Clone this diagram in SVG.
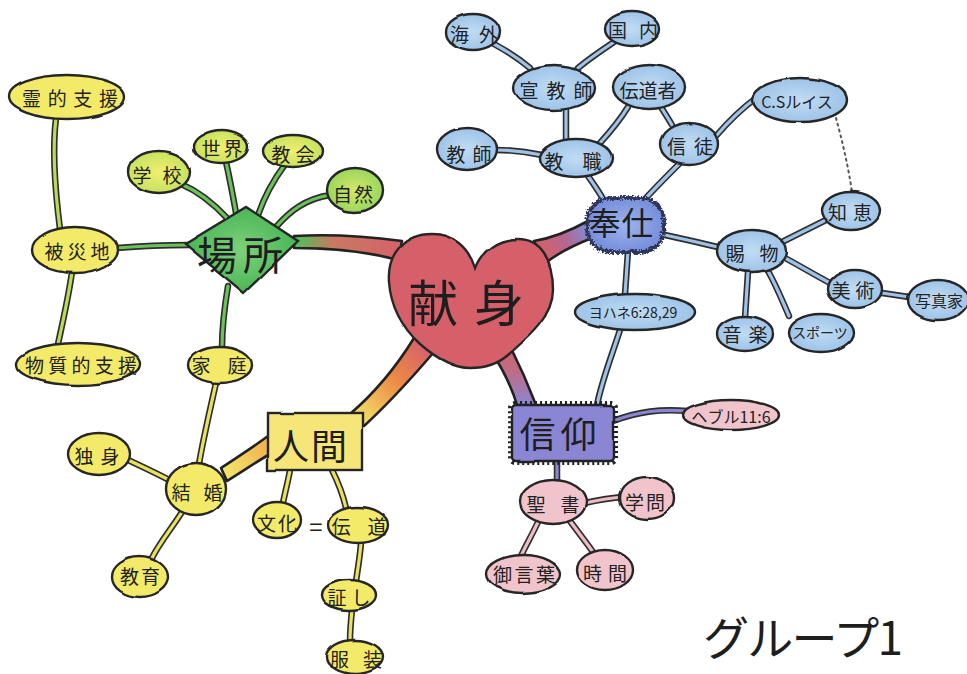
<svg xmlns="http://www.w3.org/2000/svg" xmlns:xlink="http://www.w3.org/1999/xlink" width="967" height="674" viewBox="0 0 967 674">
  <defs>
    <style>
      .lbl { font-family: "Noto Sans CJK JP", "Noto Sans", sans-serif; font-size: 19px; fill: #222; text-anchor: middle; dominant-baseline: central; }
      .sm { font-size: 14px; }
      .md { font-size: 16px; }
      .big { font-family: "Noto Sans CJK JP", "Noto Sans", sans-serif; fill: #1e1e1e; text-anchor: middle; dominant-baseline: central; }
      .nd { stroke: #262626; stroke-width: 2.4; filter: url(#rough); }
      .yel { fill: #f3ea6a; }
      .yg { fill: url(#gYG); }
      .grn { fill: url(#gGR); }
      .blu { fill: url(#gBL); }
      .pnk { fill: #f1c4cc; }
      .eo { fill: none; stroke: #2e2e2e; stroke-width: 6.5; stroke-linecap: round; stroke-linejoin: round; }
      .ef { fill: none; stroke-width: 3.2; stroke-linecap: round; stroke-linejoin: round; }
      .cy { stroke: #e9e25c; }
      .cg { stroke: #b9dc58; }
      .cgg { stroke: #6cc25a; }
      .cb { stroke: #9fc2e6; }
      .cp { stroke: #8a86d2; }
      .cpk { stroke: #ebbcc4; }
      .br { stroke: #222; stroke-width: 2.6; stroke-linejoin: round; }
    </style>
    <!-- slight wobble for hand-drawn outlines -->
    <filter id="rough" x="-10%" y="-10%" width="120%" height="120%">
      <feTurbulence type="fractalNoise" baseFrequency="0.035" numOctaves="1" seed="3" result="n"/>
      <feDisplacementMap in="SourceGraphic" in2="n" scale="3" xChannelSelector="R" yChannelSelector="G"/>
    </filter>
    <!-- bumpy cloud edge for 奉仕 -->
    <filter id="fuzz" x="-15%" y="-15%" width="130%" height="130%">
      <feTurbulence type="turbulence" baseFrequency="0.35" numOctaves="1" seed="7" result="n"/>
      <feDisplacementMap in="SourceGraphic" in2="n" scale="6" xChannelSelector="R" yChannelSelector="G"/>
    </filter>
    <radialGradient id="gYG" cx="50%" cy="50%" r="60%">
      <stop offset="0" stop-color="#f2ee70"/>
      <stop offset="1" stop-color="#bfe05c"/>
    </radialGradient>
    <radialGradient id="gGR" cx="50%" cy="50%" r="60%">
      <stop offset="0" stop-color="#d2e86a"/>
      <stop offset="1" stop-color="#8fd35a"/>
    </radialGradient>
    <radialGradient id="gBL" cx="50%" cy="50%" r="60%">
      <stop offset="0" stop-color="#c0dcf3"/>
      <stop offset="1" stop-color="#98bfe6"/>
    </radialGradient>
    <radialGradient id="gPlace" cx="50%" cy="50%" r="55%">
      <stop offset="0" stop-color="#7fd07a"/>
      <stop offset="1" stop-color="#43b452"/>
    </radialGradient>
    <radialGradient id="gServe" cx="50%" cy="50%" r="60%">
      <stop offset="0" stop-color="#9fb4ec"/>
      <stop offset="1" stop-color="#6f88d8"/>
    </radialGradient>
    <linearGradient id="brPlace" gradientUnits="userSpaceOnUse" x1="296" y1="0" x2="400" y2="0">
      <stop offset="0" stop-color="#4fbf5a"/>
      <stop offset="0.35" stop-color="#c77a62"/>
      <stop offset="1" stop-color="#d6616a"/>
    </linearGradient>
    <linearGradient id="brServe" gradientUnits="userSpaceOnUse" x1="540" y1="250" x2="590" y2="228">
      <stop offset="0" stop-color="#d6616a"/>
      <stop offset="0.5" stop-color="#b46690"/>
      <stop offset="1" stop-color="#7d8fdc"/>
    </linearGradient>
    <linearGradient id="brFaith" gradientUnits="userSpaceOnUse" x1="0" y1="350" x2="0" y2="406">
      <stop offset="0" stop-color="#d6616a"/>
      <stop offset="0.45" stop-color="#b7708f"/>
      <stop offset="1" stop-color="#8a86d4"/>
    </linearGradient>
    <linearGradient id="brHuman" gradientUnits="userSpaceOnUse" x1="425" y1="345" x2="355" y2="418">
      <stop offset="0" stop-color="#d6616a"/>
      <stop offset="0.45" stop-color="#ec8a45"/>
      <stop offset="1" stop-color="#f3e26a"/>
    </linearGradient>
    <linearGradient id="brMarriage" gradientUnits="userSpaceOnUse" x1="270" y1="445" x2="222" y2="475">
      <stop offset="0" stop-color="#f2b04e"/>
      <stop offset="1" stop-color="#f3e86a"/>
    </linearGradient>

    <!-- connector geometry, drawn twice: dark casing then coloured core -->
    <path id="c1" d="M60,229 C55,190 52,150 56,118"/>
    <path id="c2" d="M72,272 C68,300 62,325 58,344"/>
    <path id="c3" d="M117,248 C140,246 165,245 190,245"/>
    <path id="c4" d="M181,184 C200,192 215,205 228,219"/>
    <path id="c5" d="M226,162 C230,180 233,196 236,213"/>
    <path id="c6" d="M284,166 C272,182 264,198 258,215"/>
    <path id="c7" d="M330,195 C305,199 290,211 276,227"/>
    <path id="c8" d="M228,286 C224,310 222,330 222,348"/>
    <path id="c9" d="M216,383 C210,410 203,440 199,464"/>
    <path id="c10" d="M128,460 C145,468 158,474 171,481"/>
    <path id="c11" d="M182,512 C172,528 160,542 152,558"/>
    <path id="c12" d="M290,470 C288,482 285,492 283,503"/>
    <path id="c13" d="M332,470 C338,482 343,495 346,508"/>
    <path id="c14" d="M361,543 C360,556 358,568 356,581"/>
    <path id="c15" d="M352,610 C351,620 350,630 350,641"/>
    <path id="b1" d="M603,199 C598,190 592,182 588,176"/>
    <path id="b2" d="M645,199 C657,186 668,175 680,163"/>
    <path id="b3" d="M660,234 C680,238 700,243 718,247"/>
    <path id="b4" d="M628,251 C627,265 626,280 625,294"/>
    <path id="b5" d="M620,330 C612,355 602,380 597,405"/>
    <path id="b6" d="M496,150 C512,150 528,152 542,155"/>
    <path id="b7" d="M566,141 L566,110"/>
    <path id="b8" d="M600,143 C610,132 620,120 628,107"/>
    <path id="b9" d="M530,68 C518,58 505,50 494,44"/>
    <path id="b10" d="M578,68 C590,58 602,50 614,42"/>
    <path id="b11" d="M672,125 C668,118 664,112 661,107"/>
    <path id="b12" d="M716,136 C728,122 740,110 756,98"/>
    <path id="b13" d="M782,242 C798,234 812,227 826,220"/>
    <path id="b14" d="M785,258 C800,266 815,275 830,283"/>
    <path id="b15" d="M748,272 L745,318"/>
    <path id="b16" d="M768,271 C776,285 782,300 789,316"/>
    <path id="b17" d="M882,293 L909,297"/>
    <path id="p1" d="M613,421 C640,411 660,409 688,411"/>
    <path id="p2" d="M557,461 L557,482"/>
    <path id="p3" d="M585,503 C598,500 610,498 622,497"/>
    <path id="p4" d="M538,522 C532,535 526,545 521,556"/>
    <path id="p5" d="M570,521 C578,532 586,542 593,552"/>
  </defs>

  <rect width="967" height="674" fill="#ffffff"/>

  <g id="connectors">
    <!-- dark casings -->
    <g class="eo">
      <use xlink:href="#c1"/><use xlink:href="#c2"/><use xlink:href="#c3"/><use xlink:href="#c4"/>
      <use xlink:href="#c5"/><use xlink:href="#c6"/><use xlink:href="#c7"/><use xlink:href="#c8"/>
      <use xlink:href="#c9"/><use xlink:href="#c10"/><use xlink:href="#c11"/><use xlink:href="#c12"/>
      <use xlink:href="#c13"/><use xlink:href="#c14"/><use xlink:href="#c15"/>
      <use xlink:href="#b1"/><use xlink:href="#b2"/><use xlink:href="#b3"/><use xlink:href="#b4"/>
      <use xlink:href="#b5"/><use xlink:href="#b6"/><use xlink:href="#b7"/><use xlink:href="#b8"/>
      <use xlink:href="#b9"/><use xlink:href="#b10"/><use xlink:href="#b11"/><use xlink:href="#b12"/>
      <use xlink:href="#b13"/><use xlink:href="#b14"/><use xlink:href="#b15"/><use xlink:href="#b16"/>
      <use xlink:href="#b17"/>
      <use xlink:href="#p1"/><use xlink:href="#p2"/><use xlink:href="#p3"/><use xlink:href="#p4"/><use xlink:href="#p5"/>
    </g>
    <!-- coloured cores -->
    <g class="ef">
      <use class="cg" xlink:href="#c1"/><use class="cg" xlink:href="#c2"/><use class="cgg" xlink:href="#c3"/>
      <use class="cgg" xlink:href="#c4"/><use class="cgg" xlink:href="#c5"/><use class="cgg" xlink:href="#c6"/>
      <use class="cgg" xlink:href="#c7"/><use class="cgg" xlink:href="#c8"/>
      <use class="cy" xlink:href="#c9"/><use class="cy" xlink:href="#c10"/><use class="cy" xlink:href="#c11"/>
      <use class="cy" xlink:href="#c12"/><use class="cy" xlink:href="#c13"/><use class="cy" xlink:href="#c14"/>
      <use class="cy" xlink:href="#c15"/>
      <use class="cb" xlink:href="#b1"/><use class="cb" xlink:href="#b2"/><use class="cb" xlink:href="#b3"/>
      <use class="cb" xlink:href="#b4"/><use class="cb" xlink:href="#b5"/><use class="cb" xlink:href="#b6"/>
      <use class="cb" xlink:href="#b7"/><use class="cb" xlink:href="#b8"/><use class="cb" xlink:href="#b9"/>
      <use class="cb" xlink:href="#b10"/><use class="cb" xlink:href="#b11"/><use class="cb" xlink:href="#b12"/>
      <use class="cb" xlink:href="#b13"/><use class="cb" xlink:href="#b14"/><use class="cb" xlink:href="#b15"/>
      <use class="cb" xlink:href="#b16"/><use class="cb" xlink:href="#b17"/>
      <use class="cp" xlink:href="#p1"/><use class="cp" xlink:href="#p2"/>
      <use class="cpk" xlink:href="#p3"/><use class="cpk" xlink:href="#p4"/><use class="cpk" xlink:href="#p5"/>
    </g>
    <!-- dotted link C.Sルイス to 知恵 -->
    <path d="M836,118 C842,140 848,165 852,192" fill="none" stroke="#555" stroke-width="2" stroke-dasharray="2 4" stroke-linecap="round"/>
    <!-- tapered main branches -->
    <path class="br" fill="url(#brPlace)" d="M294,236 C330,234 365,236 402,241 L398,260 C365,251 330,248 294,248 Z"/>
    <path class="br" fill="url(#brServe)" d="M534,241 C552,238 568,232 588,221 L592,238 C574,245 558,253 544,264 Z"/>
    <path class="br" fill="url(#brFaith)" d="M490,350 C504,370 512,388 518,408 L536,405 C528,384 520,366 510,346 Z"/>
    <path class="br" fill="url(#brHuman)" d="M414,338 C398,364 378,390 350,414 L364,426 C388,404 410,380 434,352 Z"/>
    <path class="br" fill="url(#brMarriage)" d="M221,468 C236,458 252,448 268,436 L270,454 C256,462 242,472 227,481 Z"/>
  </g>

  <!-- central heart -->
  <g id="n-kenshin">
    <path class="nd" stroke-width="3.5" fill="#d6616a" d="M475,268 C468,246 452,234 432,234 C404,234 387,254 389,282 C391,310 405,330 420,344 C436,358 452,368 470,368 C488,368 500,362 508,355 C530,336 553,316 553,290 C553,258 540,239 518,239 C498,239 482,250 475,268 Z"/>
    <text class="big" x="466" y="300" font-size="50" textLength="116">献身</text>
  </g>

  <!-- 場所 branch -->
  <g id="n-basho">
    <polygon class="nd" stroke-width="2.8" fill="url(#gPlace)" points="185,244 246,207 298,241 244,293"/>
    <text class="big" x="240" y="253" font-size="40" textLength="86">場所</text>
  </g>
  <g id="n-gakko"><ellipse class="nd yg" cx="159" cy="172" rx="31" ry="21"/><text class="lbl" x="157" y="174" textLength="49">学校</text></g>
  <g id="n-sekai"><ellipse class="nd yg" cx="221" cy="147" rx="27" ry="16"/><text class="lbl" x="222" y="147" textLength="41">世界</text></g>
  <g id="n-kyokai"><ellipse class="nd yg" cx="293" cy="151" rx="30" ry="16"/><text class="lbl" x="293" y="153" textLength="43">教会</text></g>
  <g id="n-shizen"><ellipse class="nd grn" cx="355" cy="190" rx="28" ry="22"/><text class="lbl" x="353" y="193" textLength="40">自然</text></g>
  <g id="n-hisaichi"><ellipse class="nd yel" cx="75" cy="250" rx="43" ry="23"/><text class="lbl" x="77" y="250" textLength="65">被災地</text></g>
  <g id="n-reiteki"><ellipse class="nd yel" cx="67" cy="97" rx="58" ry="22"/><text class="lbl" x="70" y="97" textLength="96">霊的支援</text></g>
  <g id="n-busshitsu"><ellipse class="nd yel" cx="78" cy="364" rx="62" ry="21"/><text class="lbl" x="81" y="364" textLength="112">物質的支援</text></g>
  <g id="n-katei"><ellipse class="nd yel" cx="220" cy="365" rx="32" ry="18"/><text class="lbl" x="219" y="364" textLength="55">家庭</text></g>

  <!-- 人間 branch -->
  <g id="n-ningen">
    <rect class="nd" stroke-width="3" fill="#f6e67a" x="268" y="413" width="94" height="57"/>
    <text class="big" x="310" y="444" font-size="36" textLength="74">人間</text>
  </g>
  <g id="n-kekkon"><ellipse class="nd yel" cx="196" cy="489" rx="30" ry="26"/><text class="lbl" x="197" y="491" textLength="51">結婚</text></g>
  <g id="n-dokushin"><ellipse class="nd yel" cx="99" cy="454" rx="31" ry="21"/><text class="lbl" x="97" y="455" textLength="45">独身</text></g>
  <g id="n-kyoiku"><ellipse class="nd yel" cx="140" cy="577" rx="28" ry="20"/><text class="lbl" x="140" y="575" textLength="40">教育</text></g>
  <g id="n-bunka"><ellipse class="nd yel" cx="277" cy="520" rx="24" ry="18"/><text class="lbl" x="277" y="522" textLength="40">文化</text></g>
  <text class="big" x="316" y="525" font-size="24" fill="#555">=</text>
  <g id="n-dendo"><ellipse class="nd yel" cx="358" cy="525" rx="30" ry="18"/><text class="lbl" x="359" y="525" textLength="55">伝道</text></g>
  <g id="n-akashi"><ellipse class="nd yel" cx="349" cy="595" rx="27" ry="15"/><text class="lbl" x="349" y="596" textLength="43">証し</text></g>
  <g id="n-fukuso"><ellipse class="nd yel" cx="355" cy="657" rx="28" ry="17"/><text class="lbl" x="356" y="658" textLength="52">服装</text></g>

  <!-- 奉仕 branch -->
  <g id="n-hoshi">
    <g filter="url(#fuzz)">
      <rect x="585" y="196" width="77" height="54" rx="24" fill="url(#gServe)" stroke="#2c3048" stroke-width="2.6"/>
      <rect x="585" y="196" width="77" height="54" rx="24" fill="none" stroke="#2e3458" stroke-width="4" stroke-dasharray="1.5 2.5" stroke-linecap="round"/>
    </g>
    <text class="big" x="621" y="221" font-size="32" textLength="65">奉仕</text>
  </g>
  <g id="n-kyoshoku"><ellipse class="nd blu" cx="576" cy="158" rx="36" ry="19"/><text class="lbl" x="573" y="160" textLength="57">教職</text></g>
  <g id="n-kyoshi"><ellipse class="nd blu" cx="467" cy="149" rx="30" ry="21"/><text class="lbl" x="469" y="153" textLength="45">教師</text></g>
  <g id="n-senkyoshi"><ellipse class="nd blu" cx="554" cy="88" rx="41" ry="22"/><text class="lbl" x="556" y="89" textLength="73">宣教師</text></g>
  <g id="n-kaigai"><ellipse class="nd blu" cx="473" cy="32" rx="27" ry="18"/><text class="lbl" x="474" y="33" textLength="48">海外</text></g>
  <g id="n-kokunai"><ellipse class="nd blu" cx="632" cy="29" rx="27" ry="17"/><text class="lbl" x="633" y="29" textLength="50">国内</text></g>
  <g id="n-dendosha"><ellipse class="nd blu" cx="649" cy="87" rx="36" ry="22"/><text class="lbl" x="648" y="89" textLength="57">伝道者</text></g>
  <g id="n-shinto"><ellipse class="nd blu" cx="689" cy="144" rx="29" ry="21"/><text class="lbl" x="690" y="145" textLength="46">信徒</text></g>
  <g id="n-cslewis"><ellipse class="nd blu" cx="800" cy="100" rx="47" ry="22"/><text class="lbl md" x="797" y="101">C.Sルイス</text></g>
  <g id="n-tamamono"><ellipse class="nd blu" cx="752" cy="251" rx="35" ry="21"/><text class="lbl" x="752" y="252" textLength="53">賜物</text></g>
  <g id="n-chie"><ellipse class="nd blu" cx="851" cy="211" rx="29" ry="19"/><text class="lbl" x="850" y="211" textLength="44">知恵</text></g>
  <g id="n-bijutsu"><ellipse class="nd blu" cx="855" cy="289" rx="27" ry="19"/><text class="lbl" x="853" y="289" textLength="43">美術</text></g>
  <g id="n-shashinka"><ellipse class="nd blu" cx="938" cy="300" rx="30" ry="20"/><text class="lbl md" x="939" y="300">写真家</text></g>
  <g id="n-ongaku"><ellipse class="nd blu" cx="745" cy="334" rx="28" ry="17"/><text class="lbl" x="745" y="333" textLength="45">音楽</text></g>
  <g id="n-sports"><ellipse class="nd blu" cx="821" cy="333" rx="33" ry="19"/><text class="lbl sm" x="820" y="332">スポーツ</text></g>
  <g id="n-john"><ellipse class="nd blu" cx="635" cy="312" rx="60" ry="18"/><text class="lbl sm" x="633" y="312">ヨハネ6:28,29</text></g>

  <!-- 信仰 branch -->
  <g id="n-shinko">
    <rect x="511" y="404" width="104" height="58" rx="4" fill="none" stroke="#222" stroke-width="6" stroke-dasharray="2 3"/>
    <rect x="512" y="405" width="102" height="56" rx="4" fill="#8a86d4" stroke="#222" stroke-width="2.4" filter="url(#rough)"/>
    <text class="big" x="558" y="432" font-size="36" textLength="77">信仰</text>
  </g>
  <g id="n-hebrews"><ellipse class="nd pnk" cx="731" cy="415" rx="48" ry="15"/><text class="lbl md" x="731" y="416">ヘブル11:6</text></g>
  <g id="n-seisho"><ellipse class="nd pnk" cx="553" cy="502" rx="33" ry="22"/><text class="lbl" x="553" y="503" textLength="53">聖書</text></g>
  <g id="n-gakumon"><ellipse class="nd pnk" cx="647" cy="498" rx="27" ry="21"/><text class="lbl" x="645" y="501" textLength="40">学問</text></g>
  <g id="n-mikotoba"><ellipse class="nd pnk" cx="523" cy="574" rx="37" ry="19"/><text class="lbl" x="524" y="573" textLength="62">御言葉</text></g>
  <g id="n-jikan"><ellipse class="nd pnk" cx="605" cy="570" rx="28" ry="20"/><text class="lbl" x="605" y="572" textLength="44">時間</text></g>

  <!-- group title -->
  <text class="big" x="803" y="635" font-size="46" fill="#333" textLength="200">グループ1</text>
</svg>
